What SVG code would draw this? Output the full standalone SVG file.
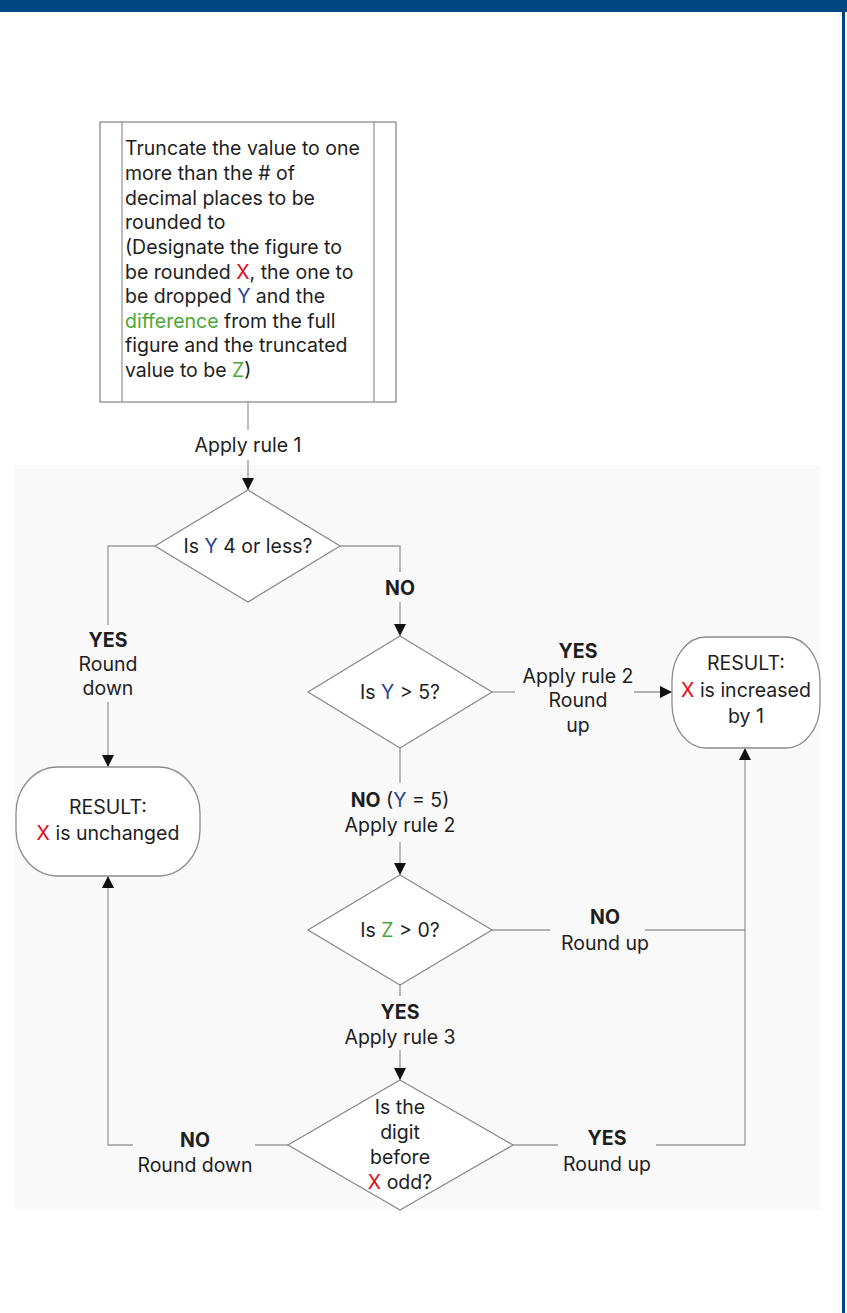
<svg xmlns="http://www.w3.org/2000/svg" width="847" height="1313" viewBox="0 0 847 1313">
  <defs>
    <marker id="arrow" markerWidth="12" markerHeight="12" refX="12" refY="6" orient="auto" markerUnits="userSpaceOnUse">
      <path d="M0,0 L12,6 L0,12 Z" fill="#111"/>
    </marker>
    <style>
      text { font-family: Inter, "Open Sans", "Liberation Sans", sans-serif; font-size: 19.5px; fill: #1e1e1e; }
      .c { text-anchor: middle; }
      .b { font-weight: bold; }
      .x { fill: #e30613; }
      .y { fill: #2b3f94; }
      .z { fill: #4ba735; }
      .shape { fill: #ffffff; stroke: #8c8c8c; stroke-width: 1.3; }
      .line { fill: none; stroke: #9a9a9a; stroke-width: 1.3; }
      .arr { marker-end: url(#arrow); }
    </style>
  </defs>

  <!-- page frame -->
  <rect x="0" y="0" width="847" height="1313" fill="#ffffff"/>
  <rect x="0" y="0" width="847" height="12" fill="#004680"/>
  <rect x="842" y="12" width="3" height="1301" fill="#004680"/>
  <rect x="15" y="465" width="805" height="745" fill="#f9f9f9"/>

  <!-- connectors -->
  <g id="connectors">
    <line class="line" x1="248" y1="402" x2="248" y2="430"/>
    <line class="line arr" x1="248" y1="460" x2="248" y2="490"/>

    <polyline class="line" points="155,546 108,546 108,625"/>
    <line class="line arr" x1="108" y1="702" x2="108" y2="767"/>

    <polyline class="line" points="340,546 400,546 400,572"/>
    <line class="line arr" x1="400" y1="602" x2="400" y2="636"/>

    <line class="line" x1="492" y1="692" x2="515" y2="692"/>
    <line class="line arr" x1="634" y1="692" x2="672" y2="692"/>

    <line class="line" x1="400" y1="748" x2="400" y2="783"/>
    <line class="line arr" x1="400" y1="842" x2="400" y2="875"/>

    <line class="line" x1="492" y1="930" x2="550" y2="930"/>
    <line class="line" x1="645" y1="930" x2="745" y2="930"/>

    <line class="line" x1="400" y1="985" x2="400" y2="996"/>
    <line class="line arr" x1="400" y1="1050" x2="400" y2="1080"/>

    <line class="line" x1="288" y1="1145" x2="255" y2="1145"/>
    <polyline class="line arr" points="133,1145 108,1145 108,876"/>

    <line class="line" x1="513" y1="1145" x2="558" y2="1145"/>
    <polyline class="line arr" points="656,1145 745,1145 745,748"/>
  </g>

  <!-- connector labels -->
  <g id="labels">
    <text class="c" x="248" y="452">Apply rule 1</text>
    <text class="c b" x="400" y="595">NO</text>
    <text class="c b" x="108" y="647">YES</text>
    <text class="c" x="108" y="671">Round</text>
    <text class="c" x="108" y="695">down</text>
    <text class="c b" x="578" y="658">YES</text>
    <text class="c" x="578" y="683">Apply rule 2</text>
    <text class="c" x="578" y="707">Round</text>
    <text class="c" x="578" y="732">up</text>
    <text class="c" x="400" y="807"><tspan class="b">NO</tspan> (<tspan class="y">Y</tspan> = 5)</text>
    <text class="c" x="400" y="832">Apply rule 2</text>
    <text class="c b" x="605" y="924">NO</text>
    <text class="c" x="605" y="950">Round up</text>
    <text class="c b" x="400" y="1019">YES</text>
    <text class="c" x="400" y="1044">Apply rule 3</text>
    <text class="c b" x="195" y="1147">NO</text>
    <text class="c" x="195" y="1172">Round down</text>
    <text class="c b" x="607" y="1145">YES</text>
    <text class="c" x="607" y="1171">Round up</text>
  </g>

  <!-- start: truncate step -->
  <g id="truncate">
    <rect class="shape" x="100" y="122" width="296" height="280"/>
    <line class="line" x1="122" y1="122" x2="122" y2="402"/>
    <line class="line" x1="374" y1="122" x2="374" y2="402"/>
    <text x="125" y="155">Truncate the value to one</text>
    <text x="125" y="180">more than the # of</text>
    <text x="125" y="205">decimal places to be</text>
    <text x="125" y="229">rounded to</text>
    <text x="125" y="254">(Designate the figure to</text>
    <text x="125" y="279">be rounded <tspan class="x">X</tspan>, the one to</text>
    <text x="125" y="303">be dropped <tspan class="y">Y</tspan> and the</text>
    <text x="125" y="328"><tspan class="z">difference</tspan> from the full</text>
    <text x="125" y="352">figure and the truncated</text>
    <text x="125" y="377">value to be <tspan class="z">Z</tspan>)</text>
  </g>

  <!-- decision: Y 4 or less -->
  <g id="decision1">
    <polygon class="shape" points="248,490 340,546 248,602 155,546"/>
    <text class="c" x="248" y="553">Is <tspan class="y">Y</tspan> 4 or less?</text>
  </g>

  <!-- decision: Y greater than 5 -->
  <g id="decision2">
    <polygon class="shape" points="400,636 492,692 400,748 308,692"/>
    <text class="c" x="400" y="699">Is <tspan class="y">Y</tspan> &gt; 5?</text>
  </g>

  <!-- decision: Z greater than 0 -->
  <g id="decision3">
    <polygon class="shape" points="400,875 492,930 400,985 308,930"/>
    <text class="c" x="400" y="937">Is <tspan class="z">Z</tspan> &gt; 0?</text>
  </g>

  <!-- decision: preceding digit odd -->
  <g id="decision4">
    <polygon class="shape" points="400,1080 513,1145 400,1210 288,1145"/>
    <text class="c" x="400" y="1114">Is the</text>
    <text class="c" x="400" y="1139">digit</text>
    <text class="c" x="400" y="1164">before</text>
    <text class="c" x="400" y="1189"><tspan class="x">X</tspan> odd?</text>
  </g>

  <!-- result: rounded up -->
  <g id="resultUp">
    <rect class="shape" x="672" y="637" width="148" height="111" rx="34" ry="44"/>
    <text class="c" x="746" y="670">RESULT:</text>
    <text class="c" x="746" y="697"><tspan class="x">X</tspan> is increased</text>
    <text class="c" x="746" y="723">by 1</text>
  </g>

  <!-- result: unchanged -->
  <g id="resultSame">
    <rect class="shape" x="16" y="767" width="184" height="109" rx="42" ry="46"/>
    <text class="c" x="108" y="814">RESULT:</text>
    <text class="c" x="108" y="840"><tspan class="x">X</tspan> is unchanged</text>
  </g>
</svg>
